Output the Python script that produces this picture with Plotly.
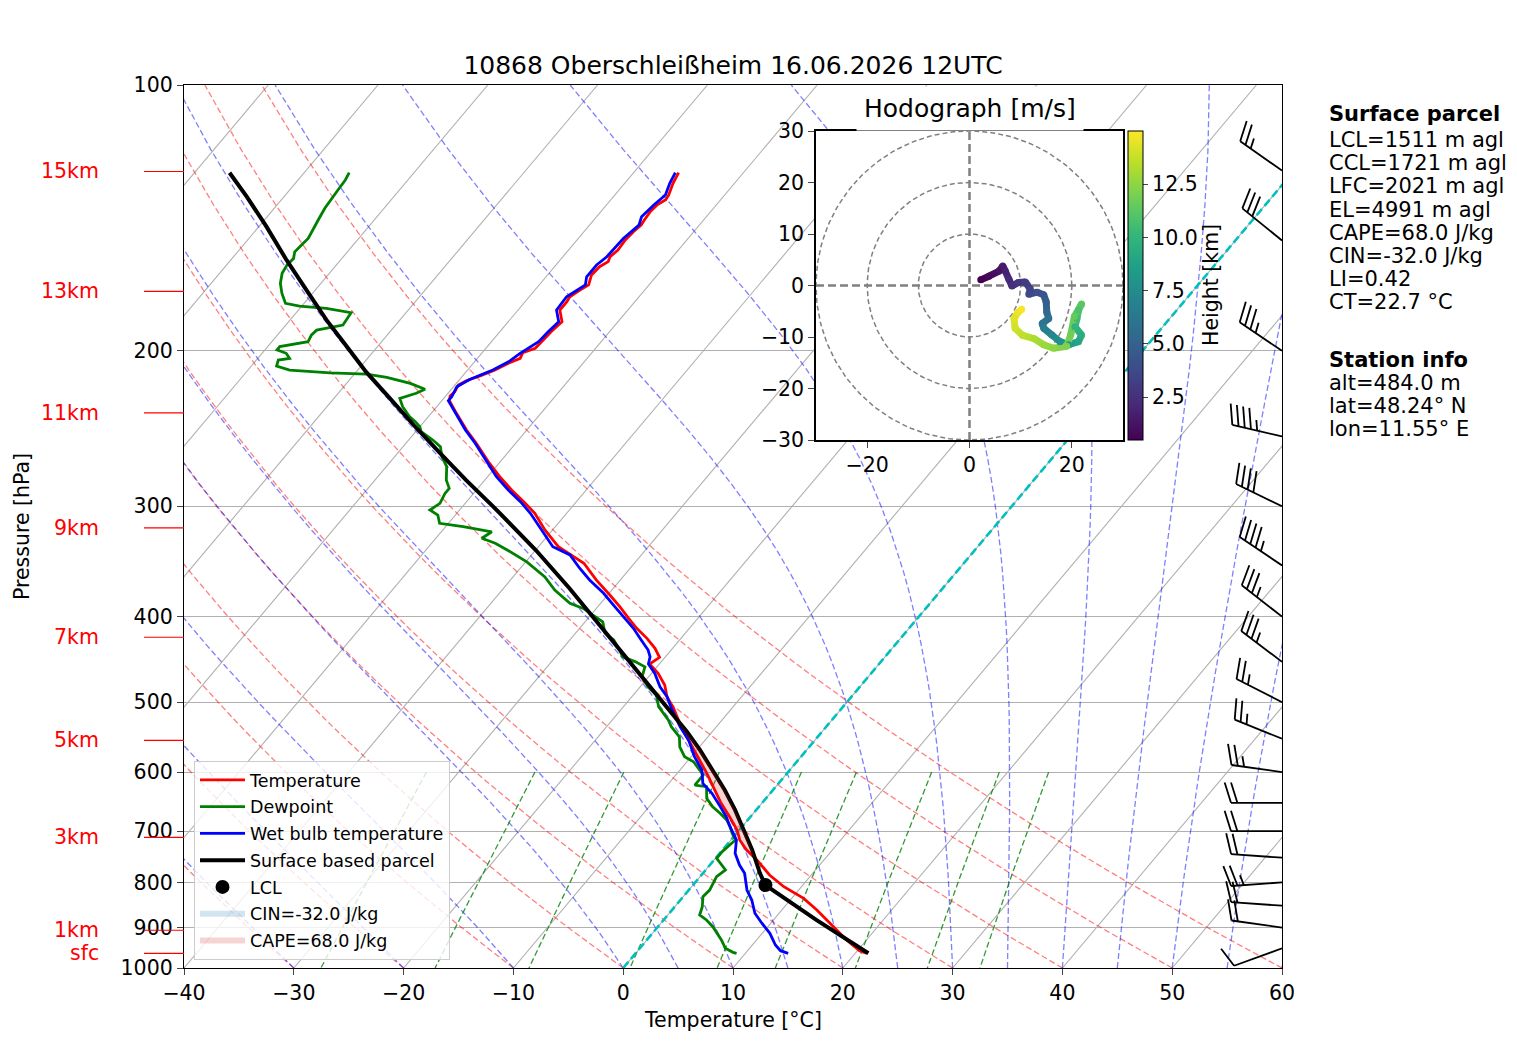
import numpy as np
import plotly.graph_objects as go
from plotly.colors import sample_colorscale

# ---- sounding (hPa / degC) ----
temp_p = [125.7, 129.2, 133.2, 134.9, 136.8, 139.2, 142.2, 144.1, 146.6, 149.8,
          153.8, 156.5, 158.5, 160.6, 164.1, 168.4, 170.7, 173.7, 175.9, 179.8,
          185.4, 189.5, 194.5, 198.7, 201.0, 204.0, 206.6, 210.3, 213.6, 216.2,
          218.6, 222.5, 225.0, 227.8, 235.4, 245.9, 254.5, 267.0, 277.7, 287.5,
          296.4, 305.5, 319.1, 333.3, 348.0, 363.5, 378.1, 389.8, 401.8, 412.4,
          423.3, 434.5, 444.8, 452.6, 463.8, 478.2, 492.9, 508.2, 533.1, 556.7,
          576.4, 601.9, 623.3, 650.9, 674.1, 697.8, 716.1, 735.1, 754.5, 774.4,
          784.6, 809.0, 834.0, 859.8, 898.0, 929.6, 955.9, 962.4]
temp_t = [-55.9, -55.6, -55.1, -55.0, -55.4, -55.5, -55.4, -55.3, -55.5, -55.6,
          -55.5, -55.7, -55.5, -55.9, -56.0, -55.5, -55.9, -56.3, -56.2, -56.2,
          -55.1, -55.3, -55.4, -55.5, -56.3, -56.1, -56.8, -57.5, -58.4, -59.3,
          -59.7, -59.5, -59.6, -59.3, -57.7, -55.5, -53.6, -51.1, -48.9, -46.8,
          -44.8, -42.9, -40.7, -38.2, -34.6, -32.2, -29.8, -28.0, -26.3, -24.8,
          -23.1, -21.6, -20.5, -20.9, -19.4, -17.9, -16.8, -15.3, -13.2, -11.1,
          -9.4, -7.3, -5.7, -3.7, -1.9, -0.2, 0.8, 2.2, 3.9, 5.4,
          6.2, 8.4, 11.1, 13.2, 16.0, 18.2, 20.2, 21.0]

dew_p = [125.7, 128.1, 131.5, 134.4, 137.9, 142.2, 146.0, 149.2, 151.8, 154.5,
         157.2, 159.9, 163.4, 167.7, 172.1, 176.7, 178.0, 179.0, 181.1, 187.0,
         189.5, 191.9, 195.3, 197.8, 199.5, 201.3, 204.0, 204.9, 208.1, 210.3,
         211.8, 212.5, 214.3, 217.7, 221.1, 223.4, 226.4, 231.4, 237.5, 240.6,
         243.8, 247.0, 252.4, 256.8, 263.6, 270.5, 280.2, 286.3, 290.1, 297.7,
         302.9, 306.9, 313.6, 316.4, 320.6, 326.1, 330.4, 336.2, 346.8, 360.7,
         373.2, 381.1, 386.4, 391.5, 398.3, 405.4, 417.8, 425.1, 436.4, 444.2,
         449.8, 456.0, 467.8, 480.3, 490.8, 505.9, 523.7, 533.1, 547.2, 561.7,
         576.4, 584.0, 596.8, 604.6, 620.6, 623.3, 642.4, 656.9, 668.3, 680.0,
         691.8, 703.9, 716.1, 725.6, 738.3, 751.1, 774.4, 788.0, 802.0, 816.1,
         830.4, 852.1, 870.9, 882.2, 898.0, 913.5, 929.6, 950.0, 960.0, 962.4]
dew_t = [-85.9, -85.7, -85.6, -85.5, -85.4, -85.1, -84.8, -84.6, -84.7, -84.8,
         -84.4, -84.5, -84.3, -83.7, -82.8, -81.7, -80.2, -77.6, -75.0, -74.8,
         -76.8, -76.9, -76.7, -78.9, -78.9, -77.8, -77.1, -78.0, -77.7, -76.2,
         -72.3, -68.9, -66.8, -64.2, -62.4, -62.9, -64.0, -63.1, -61.7, -60.8,
         -60.0, -59.5, -57.8, -56.6, -55.7, -54.5, -53.5, -52.6, -52.6, -52.3,
         -52.7, -51.6, -50.8, -48.4, -45.4, -45.8, -44.2, -42.6, -39.9, -37.1,
         -35.2, -33.7, -32.8, -31.2, -29.8, -28.4, -27.3, -26.0, -24.7, -23.9,
         -22.4, -21.1, -20.6, -19.3, -17.9, -16.8, -14.9, -14.1, -12.6, -11.8,
         -10.6, -9.4, -8.2, -7.5, -7.5, -6.3, -5.4, -4.2, -3.0, -1.9,
         -1.1, -0.4, 0.4, 0.3, 0.1, 0.1, 1.8, 1.5, 1.7, 1.9,
         1.8, 2.5, 2.9, 3.9, 5.0, 5.9, 6.8, 7.8, 8.8, 9.2]

wet_p = [125.7, 129.2, 133.2, 136.8, 141.0, 144.1, 149.2, 156.5, 159.9, 164.9,
         168.4, 173.7, 179.8, 185.4, 190.4, 195.3, 201.3, 205.8, 210.3, 215.5,
         219.6, 225.4, 227.8, 235.4, 245.9, 254.5, 267.0, 277.7, 287.5, 296.4,
         305.5, 319.1, 333.3, 340.6, 352.6, 363.5, 376.4, 388.1, 400.1, 412.4,
         425.1, 436.4, 444.2, 452.6, 463.8, 480.3, 492.9, 508.2, 533.1, 552.0,
         576.4, 596.8, 617.8, 634.2, 656.9, 674.1, 691.8, 703.9, 716.1, 741.4,
         764.5, 781.2, 816.1, 837.6, 867.0, 889.8, 913.5, 941.8, 955.9, 962.4]
wet_t = [-56.2, -55.9, -55.4, -55.7, -55.9, -55.5, -55.9, -56.0, -56.3, -56.3,
         -55.8, -56.6, -56.5, -55.4, -55.6, -55.7, -56.5, -56.9, -57.7, -59.1,
         -59.7, -59.4, -59.4, -57.8, -55.6, -53.7, -51.2, -49.2, -47.1, -45.1,
         -43.3, -41.0, -38.7, -36.5, -34.6, -32.8, -30.5, -28.7, -26.9, -25.1,
         -23.5, -22.1, -21.4, -21.0, -19.7, -18.2, -16.8, -15.5, -13.3, -11.5,
         -9.7, -8.0, -6.9, -5.3, -3.5, -2.2, -1.1, -0.3, 0.5, 1.4,
         2.7, 3.8, 5.3, 6.5, 7.8, 9.2, 10.7, 12.1, 13.0, 13.9]

parcel_p = [125.7, 133.8, 144.7, 157.9, 170.7, 184.5, 197.8, 211.3, 226.4, 242.7,
            261.3, 280.2, 300.2, 336.2, 371.5, 396.6, 417.8, 440.1, 463.8, 488.7,
            514.7, 540.1, 566.5, 596.8, 628.6, 662.6, 697.8, 735.1, 781.2, 805.5,
            882.2, 962.4]
parcel_t = [-96.8, -93.4, -89.3, -84.9, -80.8, -76.7, -72.8, -69.1, -64.9, -60.7,
            -56.1, -51.7, -47.2, -40.0, -34.0, -30.2, -27.2, -24.1, -21.1, -18.0,
            -15.0, -12.3, -9.7, -7.0, -4.4, -1.9, 0.4, 2.7, 5.2, 6.6,
            13.9, 21.2]
lcl_p = 805.5
lcl_t = 6.6
lfc_p = 752.0
el_p = 515.0

# hodograph: wind (m/s) against height (km)
hodo_u = [2.2, 3.8, 5.8, 6.5, 7.0, 7.7, 8.3, 9.6, 10.9, 11.9,
          11.6, 13.2, 14.5, 15.0, 15.1, 15.5, 14.2, 14.5, 16.1, 17.7,
          19.4, 21.3, 21.9, 20.6, 21.0, 21.3, 21.9, 20.5, 19.8, 19.0,
          16.4, 14.5, 12.6, 10.4, 8.9, 8.7, 9.5, 10.2]
hodo_v = [1.1, 1.8, 2.8, 3.8, 2.8, 1.2, -0.1, 0.6, 0.7, -0.7,
          -1.7, -1.3, -1.8, -3.2, -5.2, -6.4, -7.4, -8.3, -9.6, -10.9,
          -11.5, -10.9, -9.6, -8.0, -6.4, -4.8, -3.6, -6.0, -9.5, -11.8,
          -12.2, -11.5, -10.3, -9.7, -8.3, -6.4, -5.2, -4.6]
hodo_z = [0.5, 0.8, 1.2, 1.5, 1.8, 2.1, 2.5, 2.8, 3.1, 3.4,
          3.7, 4.0, 4.4, 4.8, 5.3, 5.8, 6.2, 6.6, 7.2, 7.8,
          8.4, 9.0, 9.5, 10.0, 10.4, 10.8, 11.2, 11.5, 11.8, 12.1,
          12.5, 12.8, 13.2, 13.6, 14.0, 14.3, 14.6, 14.9]
zmin, zmax = 0.484, 15.0

# wind barbs (hPa, deg, kt)
barb_p = [125, 150, 200, 250, 300, 350, 400, 450, 500, 550, 600, 650, 700, 750, 800, 850, 900, 950]
barb_dir = [305, 309, 304, 283, 296, 304, 308, 307, 297, 292, 278, 270, 270, 274, 266, 274, 278, 250]
barb_spd = [25, 30, 35, 45, 40, 45, 35, 35, 25, 25, 25, 20, 20, 20, 25, 20, 20, 10]

# height marks on the left
km_p = [125.3, 171.3, 235.1, 317.3, 422.1, 552.4, 711.2, 906.3, 962.4]
km_text = ['15km', '13km', '11km', '9km', '7km', '5km', '3km', '1km', 'sfc']

parcel_info = ['LCL=1511 m agl', 'CCL=1721 m agl', 'LFC=2021 m agl', 'EL=4991 m agl',
               'CAPE=68.0 J/kg', 'CIN=-32.0 J/kg', 'LI=0.42', 'CT=22.7 °C']
station_info = ['alt=484.0 m', 'lat=48.24° N', 'lon=11.55° E']

W, H = 1517, 1054
ML, MR, MT, MB = 184, 235, 85, 86
PW, PH = W - ML - MR, H - MT - MB
SKEW = 67.67  # degC per decade of pressure
FS = 20.5


def skx(t, p):
    return np.asarray(t, float) + SKEW * np.log10(1000.0 / np.asarray(p, float))


def ppx(x):
    return (x - ML) / PW


def ppy(y):
    return (MT + PH - y) / PH


def joined(lines):
    xs, ys = [], []
    for x, y in lines:
        xs += list(x) + [None]
        ys += list(y) + [None]
    return xs, ys


def moist_line(t0, plev):
    Rd, Cp, Lv, eps = 287.04749, 1004.6662, 2.50084e6, 0.622

    def f(T, p):
        es = 6.112 * np.exp(17.67 * (T - 273.15) / (T - 29.65))
        rs = eps * es / (p - es)
        return (Rd * T + Lv * rs) / (Cp + Lv * Lv * rs * eps / (Rd * T * T)) / p

    T = t0 + 273.15
    out = [T]
    for p0, p1 in zip(plev[:-1], plev[1:]):
        n = 8
        h = (p1 - p0) / n
        p = p0
        for _ in range(n):
            k1 = f(T, p)
            k2 = f(T + h * k1 / 2, p + h / 2)
            k3 = f(T + h * k2 / 2, p + h / 2)
            k4 = f(T + h * k3, p + h)
            T += h * (k1 + 2 * k2 + 2 * k3 + k4) / 6
            p += h
        out.append(T)
    return np.array(out) - 273.15


def barb_lines(p, wdir, spd, length=51.0):
    xs, ys = [], []
    spacing, height, width = 0.125 * length, 0.4 * length, 0.25 * length
    for pi, d, s in zip(p, wdir, spd):
        u = -s * np.sin(np.radians(d))
        v = -s * np.cos(np.radians(d))
        rot = np.arctan2(v, u) + np.pi / 2
        c, sn = np.cos(rot), np.sin(rot)
        s5 = int(5 * round(s / 5))
        nflag, nfull, half = s5 // 50, (s5 % 50) // 10, (s5 % 10) >= 5
        segs = [[(0, 0), (0, length)]]
        off = length
        for i in range(nflag):
            segs.append([(0, off), (height, off - width / 2), (0, off - width)])
            off -= width + spacing
        for i in range(nfull):
            segs.append([(0, off), (height, off + width / 2)])
            off -= spacing
        if half:
            if off == length:
                off -= 1.5 * spacing
            segs.append([(0, off), (height / 2, off + width / 4)])
        x0, y0 = PW, PH * np.log10(1000.0 / pi)
        for seg in segs:
            for lx, ly in seg:
                X = x0 + lx * c - ly * sn
                Y = y0 + lx * sn + ly * c
                xs.append(-40 + X * 100.0 / PW)
                ys.append(10 ** (3 - Y / PH))
            xs.append(None)
            ys.append(None)
    return xs, ys


def shade(p_lo, p_hi):
    # area where the parcel is warmer than the environment, like fill_betweenx
    pp = np.array(sorted(set([p_lo, p_hi] + [p for p in temp_p if p_lo < p < p_hi])))
    te = np.interp(np.log(pp), np.log(temp_p), temp_t)
    tp = np.interp(np.log(pp), np.log(parcel_p), parcel_t)
    other = np.maximum(tp, te)
    xs = list(skx(te, pp)) + list(skx(other, pp))[::-1]
    ys = list(pp) + list(pp)[::-1]
    return xs, ys


fig = go.Figure()

# background: isotherms, dry / moist adiabats, mixing ratio lines
iso = [(skx([t, t], [1000, 100]), [1000, 100]) for t in range(-130, 61, 10)]
x, y = joined(iso)
fig.add_trace(go.Scatter(x=x, y=y, mode='lines', line=dict(color='#b0b0b0', width=1.1),
                         hoverinfo='skip', showlegend=False))

plev = np.linspace(1000, 100, 50)
dry = []
for t0 in range(-40, 61, 10):
    tt = (t0 + 273.15) * (plev / 1000.0) ** 0.2857 - 273.15
    dry.append((skx(tt, plev), plev))
x, y = joined(dry)
fig.add_trace(go.Scatter(x=x, y=y, mode='lines',
                         line=dict(color='rgba(255,0,0,0.5)', width=1.3, dash='6px,3px'),
                         hoverinfo='skip', showlegend=False))

moist = []
for t0 in [-40, -30, -20, -10] + list(range(0, 61, 5)):
    tt = moist_line(t0, plev)
    moist.append((skx(tt, plev), plev))
x, y = joined(moist)
fig.add_trace(go.Scatter(x=x, y=y, mode='lines',
                         line=dict(color='rgba(0,0,255,0.5)', width=1.3, dash='6px,3px'),
                         hoverinfo='skip', showlegend=False))

pmix = np.linspace(600, 1000, 50)
mix = []
for w in [0.0004, 0.001, 0.002, 0.004, 0.007, 0.01, 0.016, 0.024, 0.032]:
    e = pmix * w / (0.622 + w)
    a = np.log(e / 6.112)
    td = 243.5 * a / (17.67 - a)
    mix.append((skx(td, pmix), pmix))
x, y = joined(mix)
fig.add_trace(go.Scatter(x=x, y=y, mode='lines',
                         line=dict(color='rgba(0,128,0,0.8)', width=1.3, dash='6px,3px'),
                         hoverinfo='skip', showlegend=False))

fig.add_trace(go.Scatter(x=skx([0, 0], [1000, 100]), y=[1000, 100], mode='lines',
                         line=dict(color='#00bfbf', width=2.6, dash='8px,4px'),
                         hoverinfo='skip', showlegend=False))

kx, ky = shade(el_p, lfc_p)

# profiles
fig.add_trace(go.Scatter(x=skx(temp_t, temp_p), y=temp_p, mode='lines', name='Temperature',
                         line=dict(color='red', width=2.8), legendgroup='a'))
fig.add_trace(go.Scatter(x=skx(dew_t, dew_p), y=dew_p, mode='lines', name='Dewpoint',
                         line=dict(color='green', width=2.8), legendgroup='b'))
fig.add_trace(go.Scatter(x=skx(wet_t, wet_p), y=wet_p, mode='lines', name='Wet bulb temperature',
                         line=dict(color='blue', width=2.8), legendgroup='c'))
fig.add_trace(go.Scatter(x=skx(parcel_t, parcel_p), y=parcel_p, mode='lines',
                         name='Surface based parcel', line=dict(color='black', width=4),
                         legendgroup='d'))
fig.add_trace(go.Scatter(x=skx([lcl_t], [lcl_p]), y=[lcl_p], mode='markers', name='LCL',
                         marker=dict(color='black', size=14), legendgroup='e'))
fig.add_trace(go.Scatter(x=[-40, -40, -40], y=[1000, 1000, 1000], mode='none', fill='toself',
                         fillcolor='rgba(31,119,180,0.2)', name='CIN=-32.0 J/kg',
                         legendgroup='f', hoverinfo='skip'))
fig.add_trace(go.Scatter(x=kx, y=ky, mode='none', fill='toself',
                         fillcolor='rgba(214,39,40,0.2)', name='CAPE=68.0 J/kg',
                         legendgroup='g', hoverinfo='skip'))

# wind barbs at the right edge
bx, by = barb_lines(barb_p, barb_dir, barb_spd)
fig.add_trace(go.Scatter(x=bx, y=by, mode='lines', line=dict(color='black', width=1.8),
                         hoverinfo='skip', showlegend=False, cliponaxis=False))

# hodograph inset
ang = np.linspace(0, 2 * np.pi, 241)
rings = [(r * np.cos(ang), r * np.sin(ang)) for r in (10, 20, 30)]
x, y = joined(rings)
fig.add_trace(go.Scatter(x=x, y=y, xaxis='x2', yaxis='y2', mode='lines',
                         line=dict(color='gray', width=1.5, dash='5px,3px'),
                         hoverinfo='skip', showlegend=False))
fig.add_trace(go.Scatter(x=[-30, 30, None, 0, 0], y=[0, 0, None, -30, 30], xaxis='x2', yaxis='y2',
                         mode='lines', line=dict(color='gray', width=2.5, dash='8px,4px'),
                         hoverinfo='skip', showlegend=False))
for i in range(len(hodo_u) - 1):
    zc = ((hodo_z[i] + hodo_z[i + 1]) / 2 - zmin) / (zmax - zmin)
    col = sample_colorscale('Viridis', [zc])[0]
    fig.add_trace(go.Scatter(x=hodo_u[i:i + 2], y=hodo_v[i:i + 2], xaxis='x2', yaxis='y2',
                             mode='lines', line=dict(color=col, width=7),
                             hoverinfo='skip', showlegend=False))
fig.add_trace(go.Scatter(
    x=hodo_u, y=hodo_v, xaxis='x2', yaxis='y2', mode='markers', showlegend=False,
    marker=dict(size=7, color=hodo_z, colorscale='Viridis', cmin=zmin, cmax=zmax,
                showscale=True,
                colorbar=dict(x=ppx(1128), xanchor='left', y=ppy(285.5), yanchor='middle',
                              lenmode='pixels', len=309, thickness=15, xpad=0, ypad=0,
                              outlinecolor='black', outlinewidth=1,
                              tickvals=[2.5, 5, 7.5, 10, 12.5],
                              ticktext=['2.5', '5.0', '7.5', '10.0', '12.5'],
                              ticks='outside', ticklen=5, tickfont=dict(size=FS)))))

shapes = []
anns = []
for p, t in zip(km_p, km_text):
    shapes.append(dict(type='line', xref='paper', yref='y', x0=ppx(144), x1=0, y0=p, y1=p,
                       line=dict(color='red', width=1.2)))
    anns.append(dict(xref='paper', yref='y', x=ppx(101), y=np.log10(p), text=t,
                     xanchor='right', yanchor='middle', showarrow=False,
                     font=dict(color='red', size=FS)))

anns.append(dict(xref='paper', yref='paper', x=ppx(1327), y=ppy(114), text='<b>Surface parcel</b>',
                 xanchor='left', yanchor='middle', showarrow=False, font=dict(size=21)))
for i, t in enumerate(parcel_info):
    anns.append(dict(xref='paper', yref='paper', x=ppx(1327), y=ppy(140 + 23.2 * i), text=t,
                     xanchor='left', yanchor='middle', showarrow=False, font=dict(size=21)))
anns.append(dict(xref='paper', yref='paper', x=ppx(1327), y=ppy(360), text='<b>Station info</b>',
                 xanchor='left', yanchor='middle', showarrow=False, font=dict(size=21)))
for i, t in enumerate(station_info):
    anns.append(dict(xref='paper', yref='paper', x=ppx(1327), y=ppy(383.3 + 23 * i), text=t,
                     xanchor='left', yanchor='middle', showarrow=False, font=dict(size=21)))

anns.append(dict(xref='paper', yref='paper', x=0.5, y=ppy(1020), text='Temperature [°C]',
                 xanchor='center', yanchor='middle', showarrow=False, font=dict(size=FS)))
anns.append(dict(xref='paper', yref='paper', x=ppx(22), y=ppy(527), text='Pressure [hPa]',
                 textangle=-90, xanchor='center', yanchor='middle', showarrow=False,
                 font=dict(size=FS)))
anns.append(dict(xref='paper', yref='paper', x=ppx(970), y=ppy(108), text='Hodograph [m/s]',
                 xanchor='center', yanchor='middle', showarrow=False, font=dict(size=25),
                 bgcolor='white', borderpad=7))
anns.append(dict(xref='paper', yref='paper', x=ppx(1211), y=ppy(285), text='Height [km]',
                 textangle=-90, xanchor='center', yanchor='middle', showarrow=False,
                 font=dict(size=FS)))

fig.update_layout(
    width=W, height=H,
    margin=dict(l=ML, r=MR, t=MT, b=MB, autoexpand=False),
    paper_bgcolor='white', plot_bgcolor='white',
    font=dict(family='DejaVu Sans', size=FS, color='black'),
    title=dict(text='10868 Oberschleißheim 16.06.2026 12UTC', x=0.5, xref='paper',
               xanchor='center', y=1 - 65 / H, yref='container', yanchor='middle',
               font=dict(size=25)),
    legend=dict(x=ppx(194), y=ppy(960), xanchor='left', yanchor='bottom',
                bgcolor='rgba(255,255,255,0.8)', bordercolor='#cccccc', borderwidth=1,
                font=dict(size=17.5), tracegroupgap=1, itemwidth=45),
    xaxis=dict(range=[-40, 60], tickvals=list(range(-40, 61, 10)), ticks='outside',
               ticklen=6, tickwidth=1.3, showline=True, mirror=True, linecolor='black',
               linewidth=1.3, showgrid=False, zeroline=False),
    yaxis=dict(type='log', range=[3, 2], tickvals=list(range(100, 1001, 100)),
               ticktext=[str(v) for v in range(100, 1001, 100)], ticks='outside',
               ticklen=6, tickwidth=1.3, showline=True, mirror=True, linecolor='black',
               linewidth=1.3, showgrid=True, gridcolor='#b0b0b0', gridwidth=1.2,
               zeroline=False),
    xaxis2=dict(domain=[ppx(816), ppx(1123)], anchor='y2', range=[-30, 30],
                tickvals=[-20, 0, 20], ticks='outside', ticklen=6, showline=True, mirror=True,
                linecolor='black', linewidth=1.5, showgrid=False, zeroline=False),
    yaxis2=dict(domain=[ppy(440), ppy(131)], anchor='x2', range=[-30, 30],
                tickvals=list(range(-30, 31, 10)), ticks='outside', ticklen=6, showline=True,
                mirror=True, linecolor='black', linewidth=1.5, showgrid=False, zeroline=False),
    shapes=shapes,
    annotations=anns,
)

fig.write_html('out.html', config={'displayModeBar': False},
               post_script="document.body.style.margin='0px';")
